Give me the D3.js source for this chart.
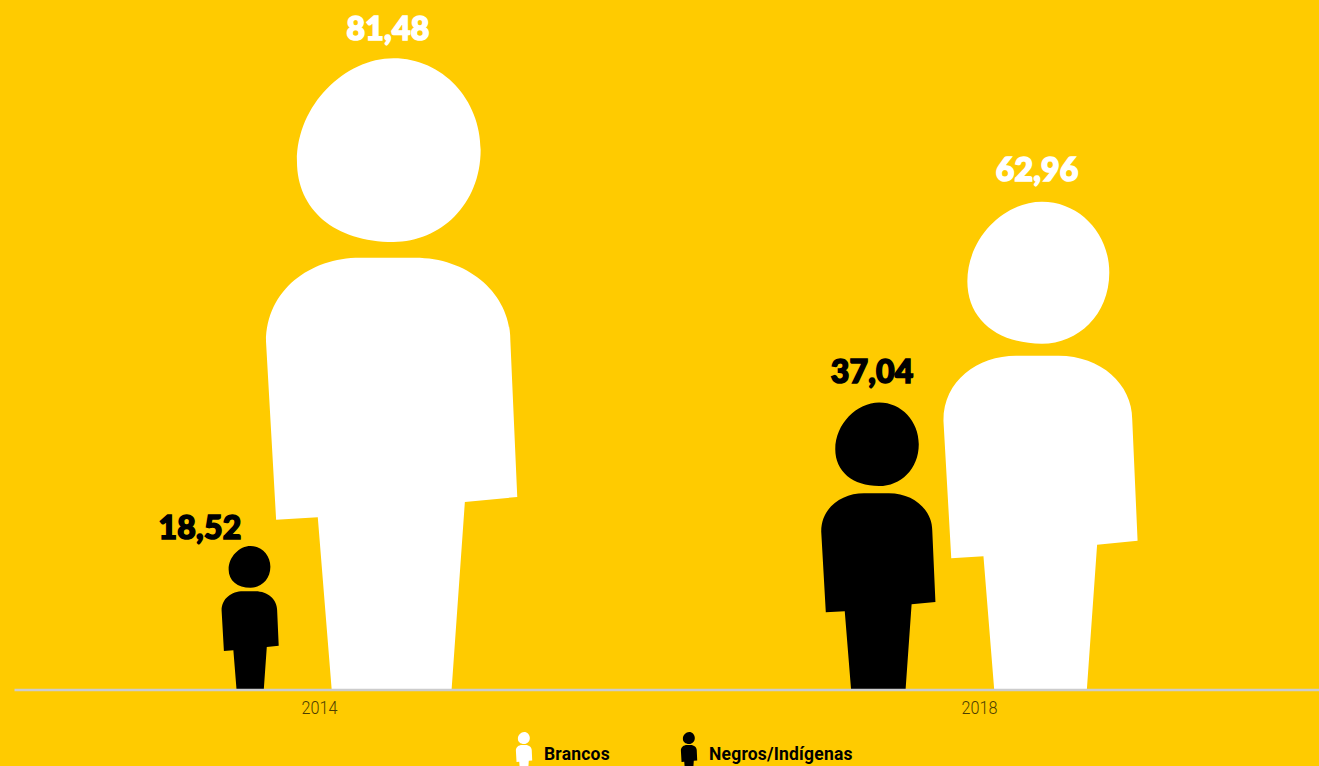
<!DOCTYPE html>
<html>
<head>
<meta charset="utf-8">
<script src="https://cdn.jsdelivr.net/npm/d3@7"></script>
<style>
  html, body { margin: 0; padding: 0; background: #ffcb00; overflow: hidden; }
  .value { font-family: Lato, sans-serif; font-weight: 900; font-size: 32px; text-anchor: middle; stroke-width: 1.6px; paint-order: stroke; letter-spacing: .2px; }
  .axis text { font-family: Roboto, sans-serif; font-weight: 300; font-size: 19px; fill: #4d3d00; }
  .legend-label { font-family: Roboto, sans-serif; font-weight: 700; font-size: 17.5px; fill: #000; letter-spacing: .2px; }
</style>
</head>
<body>
<svg id="chart"></svg>
<script>
const years = ['2014', '2018'];
const seriesNames = ['Brancos', 'Negros/Indígenas'];
const brancos = [81.48, 62.96];
const negros = [18.52, 37.04];

const colors = { 'Brancos': '#ffffff', 'Negros/Indígenas': '#000000' };

// Person pictogram, 100 units tall, feet on y=0 and centred on x=0
const personPath =
  'M0.4-100C8.2-100 14.2-93.4 14.2-85.5C14.2-76.8 7.8-70.9 0.4-70.9' +
  'C-8.9-70.9-14.9-76-14.9-83.7C-14.9-92.6-7.3-100 0.4-100Z' +
  'M-19.8-55.1C-19.8-63.3-12.8-68.4-4.9-68.4L3.8-68.4C12.5-68.4 18.9-62.5 18.9-55.4' +
  'L20-30.5L11.7-29.7L9.6 0L-9.4 0L-11.6-27.3L-18.2-26.9Z';

const width = 1319, height = 766;
const baseline = 689.5;

// Sideways shift of each figure and its label from the year tick, and label lift
const figureShift = { 'Brancos': [72, 61], 'Negros/Indígenas': [-69, -101] };
const labelShift = { 'Brancos': [69, 58], 'Negros/Indígenas': [-119, -107] };
const labelLift = { 'Brancos': [18, 21], 'Negros/Indígenas': [7, 20] };

const svg = d3.select('#chart')
  .attr('width', width)
  .attr('height', height)
  .style('display', 'block');

const x = d3.scalePoint()
  .domain(years)
  .range([14, 1319])
  .padding(0.4886)
  .align(0.4729);

const y = d3.scaleLinear()
  .domain([0, 89])
  .range([baseline, 0]);

let rows = [];
years.forEach((year, i) => {
  rows.push({ year: year, i: i, name: seriesNames[0], value: brancos[i] });
  rows.push({ year: year, i: i, name: seriesNames[1], value: negros[i] });
});

svg.selectAll('path.person')
  .data(rows)
  .enter()
  .append('path')
  .attr('class', 'person')
  .attr('d', personPath)
  .attr('fill', d => colors[d.name])
  .attr('transform', d => {
    let scale = (y(0) - y(d.value)) / 100;
    return 'translate(' + (x(d.year) + figureShift[d.name][d.i]) + ',' + y(0) + ') scale(' + scale + ')';
  });

svg.selectAll('text.value')
  .data(rows)
  .enter()
  .append('text')
  .attr('class', 'value')
  .attr('x', d => x(d.year) + labelShift[d.name][d.i])
  .attr('y', d => y(d.value) - labelLift[d.name][d.i])
  .attr('fill', d => colors[d.name])
  .attr('stroke', d => colors[d.name])
  .text(d => d3.format('.2f')(d.value).replace('.', ','));

const axis = svg.append('g')
  .attr('class', 'axis')
  .attr('transform', 'translate(0,' + baseline + ')')
  .call(d3.axisBottom(x).tickSize(0).tickPadding(11));

axis.select('.domain')
  .attr('stroke', '#cccccc')
  .attr('stroke-width', 2.5);

axis.selectAll('text')
  .attr('textLength', 36)
  .attr('lengthAdjust', 'spacingAndGlyphs');

// Legend, cut by the bottom edge like the original
const legend = svg.selectAll('g.legend')
  .data(seriesNames)
  .enter()
  .append('g')
  .attr('class', 'legend')
  .attr('transform', (d, i) => 'translate(' + [524, 689][i] + ',773)');

legend.append('path')
  .attr('d', personPath)
  .attr('fill', d => colors[d])
  .attr('transform', 'scale(0.41)');

legend.append('text')
  .attr('class', 'legend-label')
  .attr('x', 20)
  .attr('y', -13)
  .text(d => d);
</script>
</body>
</html>
